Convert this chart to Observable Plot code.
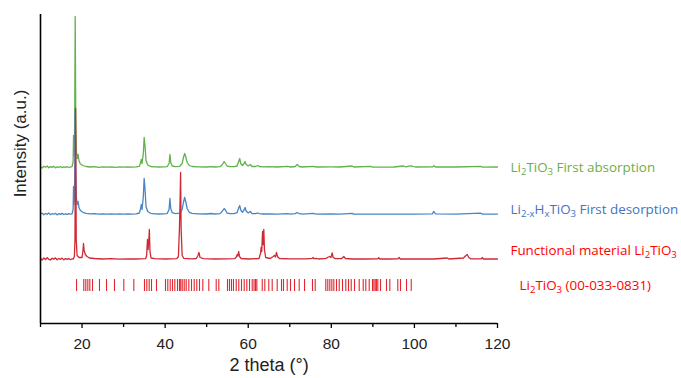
<!DOCTYPE html>
<html>
<head>
<meta charset="utf-8">
<script src="https://cdn.jsdelivr.net/npm/d3@7"></script>
<script src="https://cdn.jsdelivr.net/npm/@observablehq/plot@0.6"></script>
<style>
  html, body { margin: 0; padding: 0; background: #fff; }
  #chart { width: 681px; height: 378px; }
</style>
</head>
<body>
<div id="chart"></div>
<script>
// ---------- data (2θ in degrees, intensity in a.u. above each trace's own baseline) ----------
const offsets = { green: 156, blue: 109, red: 64 };

const greenTrace = [[10.0,0.8],[10.4,-0.5],[10.8,1.2],[11.2,0.2],[11.6,1.5],[12.0,-0.3],[12.4,0.9],[12.8,0.1],[13.2,1.3],[13.6,-0.4],[14.0,0.7],[14.4,0.2],[14.8,1.0],[15.2,-0.2],[15.6,0.6],[16.0,0.1],[16.4,0.8],[16.8,0.0],[17.2,0.5],[17.6,0.8],
[17.85,6],[17.95,32],[18.05,12],[18.2,20],[18.35,151],[18.5,45],[18.65,16],[18.85,9],[19.05,13],[19.25,7],[19.6,3.5],[20.2,2],[21,1],[22,0.5],[23,0.8],[24,0.2],[25,0.6],[26,0.3],[27,0.5],[28,0.2],[29,0.6],[30,0.3],[31,0.5],[32,0.4],[33,0.6],[33.8,1.2],[34.1,5],[34.25,8],[34.45,4],[34.75,14],[34.95,30],[35.15,22],[35.4,7],[35.8,2.5],[36.5,1],[37.5,0.6],[38.5,0.5],[39.5,0.6],[40.5,0.8],[40.95,4],[41.15,13],[41.35,5],[41.7,1.5],[42.5,0.8],[43.5,1.2],[44.1,4],[44.4,10],[44.7,14],[44.95,11],[45.3,5],[45.8,2],[46.5,1],[48,0.6],[50,0.5],[51,0.9],[52,0.5],[53.2,0.8],[53.8,3],[54.2,6],[54.5,4],[54.9,1.5],[55.6,0.8],[56.6,0.8],[57.3,1.5],[57.7,6],[57.95,9],[58.2,4],[58.6,2],[59.0,4],[59.25,6],[59.5,3],[60.0,1.5],[60.5,3],[60.9,1],[61.8,1],[62.3,2],[62.7,1],[63.5,0.6],[65,0.8],[67,0.5],[69.4,1.2],[70.2,0.5],[71.3,1],[71.8,3],[72.3,1],[73,0.5],[75.6,1.2],[76.5,0.5],[80,0.6],[82,0.5],[85,1.5],[85.4,0.5],[89.4,1.2],[90,0.4],[95,0.5],[97.4,1.5],[98,0.6],[98.6,1.4],[99.4,1.5],[100.2,0.5],[104.4,0.6],[104.7,1.8],[105.1,0.5],[110,0.5],[115.9,1.2],[116.4,0.4],[120,0.5]];

const blueTrace = [[10.0,0.5],[10.4,1.4],[10.8,-0.3],[11.2,1.0],[11.6,0.2],[12.0,1.6],[12.4,-0.2],[12.8,0.8],[13.2,0.3],[13.6,1.2],[14.0,-0.4],[14.4,0.9],[14.8,0.1],[15.2,1.1],[15.6,0.0],[16.0,0.7],[16.4,0.2],[16.8,0.9],[17.2,0.3],[17.6,0.6],
[17.85,5],[17.95,28],[18.05,10],[18.2,18],[18.35,105],[18.5,40],[18.65,16],[18.85,10],[19.05,13],[19.25,7],[19.6,4],[20.2,2.2],[21,1.2],[22,0.6],[23,0.9],[24,0.3],[25,0.7],[26,0.3],[27,0.6],[28,0.3],[29,0.5],[30,0.4],[31,0.6],[32,0.3],[33,0.7],[33.8,1.5],[34.1,6],[34.25,10],[34.45,5],[34.75,18],[34.95,36],[35.15,26],[35.4,8],[35.8,3],[36.5,1.2],[37.5,0.7],[38.5,0.5],[39.5,0.7],[40.5,0.9],[40.95,5],[41.15,16],[41.35,6],[41.7,1.8],[42.5,0.9],[43.5,1.4],[44.1,5],[44.4,12],[44.7,17],[44.95,13],[45.3,6],[45.8,2.2],[46.5,1.1],[48,0.6],[50,0.5],[51,1],[52,0.5],[53.2,0.9],[53.8,3.5],[54.2,6],[54.5,4.5],[54.9,1.5],[55.6,0.8],[56.6,0.9],[57.3,1.8],[57.7,6.5],[57.95,9],[58.2,4.5],[58.6,2.2],[59.0,4.5],[59.25,7],[59.5,3.5],[60.0,1.6],[60.5,3],[60.9,1],[61.8,0.9],[62.3,1.5],[62.7,0.8],[63.5,0.5],[65,0.6],[67,0.4],[69.4,0.9],[70.2,0.4],[71.3,0.9],[71.8,2],[72.3,0.8],[73,0.4],[75.6,1.2],[76.5,0.4],[80,0.5],[82,0.4],[85,1.1],[85.4,0.4],[90,0.4],[95,0.4],[100,0.4],[104.3,0.6],[104.65,3],[105.1,0.6],[110,0.4],[115.9,1.4],[116.4,0.4],[120,0.4]];

const redTrace = [[10.0,1.2],[10.4,-0.6],[10.8,1.5],[11.2,0.0],[11.6,1.8],[12.0,0.2],[12.4,-0.5],[12.8,1.3],[13.2,0.4],[13.6,1.6],[14.0,-0.3],[14.4,1.0],[14.8,0.2],[15.2,1.4],[15.6,-0.4],[16.0,0.9],[16.4,0.1],[16.8,1.1],[17.2,-0.2],[17.6,0.7],
[17.9,0.5],[18.15,3],[18.3,20],[18.45,151],[18.6,20],[18.8,4],[19.3,2],[20.0,2],[20.2,8],[20.35,16],[20.5,9],[20.8,5],[21.2,3],[21.8,1.5],[23,1],[25,0.5],[27,0.8],[29,0.4],[31,0.6],[33,0.5],[35.3,0.8],[35.55,4],[35.75,20],[35.9,10],[36.05,18],[36.2,30],[36.35,8],[36.6,1.5],[37.5,0.8],[40,0.5],[42.8,0.8],[43.2,3],[43.45,32],[43.6,60],[43.72,87],[43.85,30],[44.1,4],[44.5,1.2],[46.5,0.6],[47.5,1],[47.9,4],[48.15,7],[48.4,2],[49.2,0.8],[52,0.5],[55,0.6],[56.8,0.8],[57.2,3],[57.35,5],[57.5,3.5],[57.7,8],[57.9,3],[58.3,1],[60,0.5],[62.6,1],[62.95,6],[63.1,12],[63.25,8],[63.45,28],[63.6,15],[63.75,30],[63.9,10],[64.2,2],[65.3,1],[66.0,3],[66.3,4],[66.55,2.5],[66.8,7],[67.05,3],[67.5,1],[70,0.6],[74,0.6],[75.4,1.2],[75.6,2],[75.8,0.8],[76.4,1.2],[76.9,0.5],[78.7,1.2],[79.3,2.5],[79.6,3],[79.9,2],[80.2,6.5],[80.45,2],[81,0.8],[82.5,1],[83,3],[83.4,1],[85,0.5],[88,0.5],[91.2,0.6],[91.4,1.8],[91.7,0.5],[94,0.5],[96.0,0.6],[96.3,2],[96.6,0.5],[100,0.5],[104.5,0.5],[106.3,1],[107.9,1.5],[108.3,0.5],[111.8,1.5],[112.4,4],[112.7,5],[113.1,2],[113.6,0.6],[116.1,0.6],[116.3,2],[116.6,0.5],[120,0.5]];

// reference pattern Li2TiO3 (00-033-0831), 2θ positions of the bars
const refSticks = [18.67,20.42,20.90,21.39,21.87,22.52,24.20,25.89,27.81,30.05,32.46,35.03,35.59,36.16,36.72,37.92,40.09,40.64,41.22,41.77,42.33,42.98,43.46,43.75,44.11,44.59,45.07,45.70,46.35,47.00,47.62,48.27,49.07,50.51,52.29,52.92,55.01,55.49,55.97,56.45,57.11,57.73,58.38,59.03,59.66,60.31,60.96,61.40,61.75,62.07,63.37,63.99,64.95,65.77,66.97,68.01,68.49,69.38,70.18,71.14,72.27,73.55,75.47,76.12,78.67,79.15,79.64,80.12,80.60,81.25,81.90,82.69,83.49,84.14,84.79,85.58,86.71,87.68,88.30,89.12,89.91,90.25,90.56,90.85,91.19,91.84,93.28,94.08,96.00,96.65,98.10,99.23];
const stickRange = [32, 44];

const labelTexts = ["Li_{2}TiO_{3} First absorption", "Li_{2-x}H_{x}TiO_{3} First desorption", "Functional material Li_{2}TiO_{3}", "Li_{2}TiO_{3} (00-033-0831)"];
const labelY = [156, 114, 73, 38];
const labelDx = [13, 13, 13, 22];
const labelColors = ["#70ad47", "#4472c4", "#ff0000", "#ff0000"];

const xMajorTicks = [20, 40, 60, 80, 100, 120];
const xMinorTicks = [10, 30, 50, 70, 90, 110];

// ---------- chart ----------
const toRows = (arr, off) => arr.map(([x, v]) => ({ x, y: v + off }));
const green = toRows(greenTrace, offsets.green);
const blue = toRows(blueTrace, offsets.blue);
const red = toRows(redTrace, offsets.red);
const labels = labelTexts.map((t, i) => ({ t, y: labelY[i], c: labelColors[i] }));

const chart = Plot.plot({
  width: 681,
  height: 378,
  marginLeft: 40,
  marginRight: 184,
  marginTop: 14,
  marginBottom: 55,
  style: { fontFamily: "'Liberation Sans', Arial, sans-serif", background: "#fff", overflow: "visible" },
  x: { domain: [10, 120] },
  y: { domain: [0, 309], axis: null },
  marks: [
    Plot.ruleX(refSticks, { x: d => d, y1: stickRange[0], y2: stickRange[1], stroke: "#e3262e", strokeWidth: 1.1 }),
    Plot.line(green, { x: "x", y: "y", stroke: "#62b14f", strokeWidth: 1.3 }),
    Plot.line(blue, { x: "x", y: "y", stroke: "#4a86c2", strokeWidth: 1.3 }),
    Plot.line(red, { x: "x", y: "y", stroke: "#cf2a33", strokeWidth: 1.3 }),
    Plot.axisX({ ticks: xMinorTicks, tickSize: 4, tickFormat: () => "", label: null, stroke: "#000", strokeWidth: 1.3 }),
    Plot.axisX({ ticks: xMajorTicks, tickSize: 5, tickPadding: 9, fontSize: 15.5, label: null, stroke: "#000", strokeWidth: 1.3, color: "#222" }),
    Plot.ruleY([0], { stroke: "#000", strokeWidth: 1.6 }),
    Plot.ruleX([10], { stroke: "#000", strokeWidth: 1.6 }),
    Plot.text(["2 theta (°)"], { frameAnchor: "bottom", dy: 47, text: d => d, fontSize: 18, fill: "#222" }),
    Plot.text(["Intensity (a.u.)"], { x: 10, y: 180, dx: -20, rotate: -90, text: d => d, fontSize: 17, fill: "#222" }),
    Plot.text(labels, { x: 120, y: "y", text: "t", fill: "c", textAnchor: "start", fontSize: 13.4, fontFamily: "'Open Sans', sans-serif" })
  ]
});

document.getElementById("chart").appendChild(chart);

// apply per-label horizontal offset and subscripts (absolute shifts so the baseline returns exactly)
const SUB_SHIFT = 3.5;
const labelNodes = Array.from(chart.querySelectorAll("text")).filter(n => n.textContent.includes("_"));
labelNodes.forEach(node => {
  const raw = node.textContent;
  const idx = labelTexts.indexOf(raw);
  if (idx >= 0) {
    const cur = +(node.getAttribute("x") || 0);
    node.setAttribute("x", cur + labelDx[idx]);
  }
  while (node.firstChild) node.removeChild(node.firstChild);
  const re = /_\{([^}]*)\}|([^_]+)/g;
  let m, inSub = false;
  while ((m = re.exec(raw)) !== null) {
    const ts = document.createElementNS("http://www.w3.org/2000/svg", "tspan");
    if (m[1] !== undefined) {
      ts.textContent = m[1];
      ts.setAttribute("font-size", "72%");
      if (!inSub) ts.setAttribute("dy", SUB_SHIFT);
      inSub = true;
    } else {
      ts.textContent = m[2];
      if (inSub) ts.setAttribute("dy", -SUB_SHIFT);
      inSub = false;
    }
    node.appendChild(ts);
  }
});
</script>
</body>
</html>
